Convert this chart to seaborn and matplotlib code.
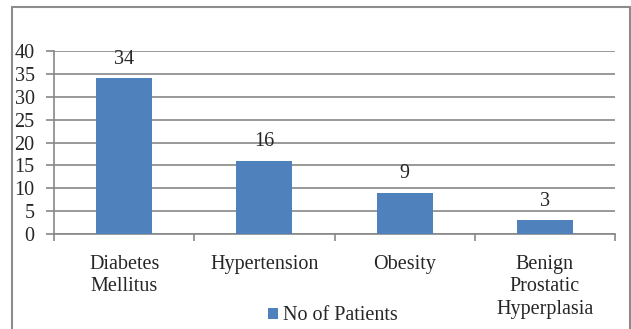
import matplotlib
matplotlib.use("Agg")
import matplotlib.pyplot as plt
from matplotlib.patches import Rectangle
import seaborn as sns
import pandas as pd

categories = ["Diabetes\nMellitus", "Hypertension", "Obesity", "Benign\nProstatic\nHyperplasia"]
patients = [34, 16, 9, 3]
series_name = "No of Patients"
y_ticks = [0, 5, 10, 15, 20, 25, 30, 35, 40]

sns.set_style("white")
plt.rcParams["font.family"] = ["Liberation Serif", "DejaVu Serif"]

FS = 14.5

df = pd.DataFrame({"condition": categories, "count": patients})

fig = plt.figure(figsize=(6.31, 3.29), dpi=100)
ax = fig.add_axes([54 / 631, 1 - 234 / 329, (615 - 54) / 631, (234 - 51) / 329])

bar_color = "#4F81BD"
grid_color = "#878787"

sns.barplot(data=df, x="condition", y="count", color=bar_color, width=0.4,
            saturation=1, linewidth=0, label=series_name, ax=ax, zorder=3)

ax.set_ylim(0, 40)
ax.set_xlim(-0.5, len(categories) - 0.5)
ax.set_yticks(y_ticks)
ax.set_yticklabels([str(t) for t in y_ticks], fontsize=FS)
ax.yaxis.grid(True, color=grid_color, linewidth=1.2, zorder=0)
ax.set_axisbelow(True)

# category labels centred under bars, tick marks on category boundaries
ax.set_xticks(range(len(categories)))
ax.set_xticklabels(categories, fontsize=FS, linespacing=1.25)
ax.tick_params(axis="x", which="major", length=0, pad=15)
ax.set_xticks([i + 0.5 for i in range(-1, len(categories))], minor=True)
ax.tick_params(axis="x", which="minor", length=5, width=1.2, color=grid_color, direction="out", bottom=True)
ax.tick_params(axis="y", length=6, width=1.2, color=grid_color, direction="out", left=True, pad=8)

ax.set_xlabel("")
ax.set_ylabel("")
for side in ["top", "right"]:
    ax.spines[side].set_visible(False)
for side in ["left", "bottom"]:
    ax.spines[side].set_color(grid_color)
    ax.spines[side].set_linewidth(1.2)

ax.bar_label(ax.containers[0], labels=[str(v) for v in patients], padding=7, fontsize=FS)

ax.legend(loc="center", bbox_to_anchor=(333 / 631, 1 - 316 / 329), bbox_transform=fig.transFigure,
          frameon=False, fontsize=FS, handlelength=0.5, handleheight=0.5, handletextpad=0.25)

# outer frame
fig.patches.append(Rectangle((12 / 631, -0.05), (630 - 12) / 631, 1.05 - 7 / 329,
                             transform=fig.transFigure, fill=False, edgecolor="#8c8c8c",
                             linewidth=1.5, zorder=0))

fig.savefig("out.png", dpi=100)
